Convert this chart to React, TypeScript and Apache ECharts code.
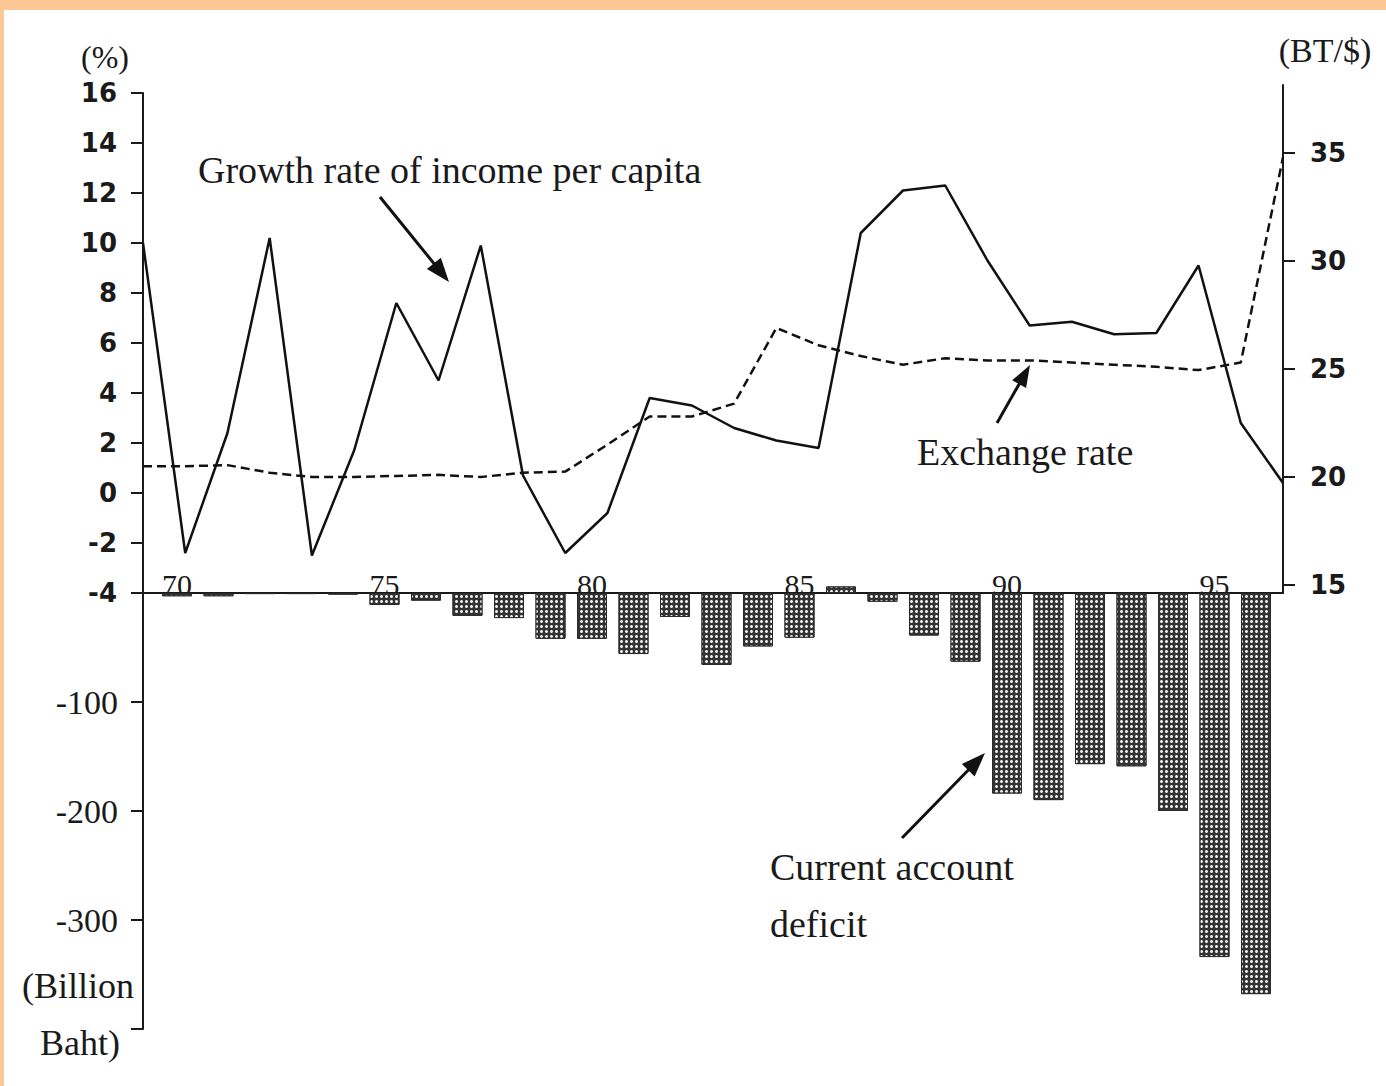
import React, { useEffect, useRef } from 'react';
import * as echarts from 'echarts';

// ---- Data ----
const years = [
  '1970', '1971', '1972', '1973', '1974', '1975', '1976', '1977', '1978', '1979',
  '1980', '1981', '1982', '1983', '1984', '1985', '1986', '1987', '1988', '1989',
  '1990', '1991', '1992', '1993', '1994', '1995', '1996', '1997',
];
const barYears = [
  '1970', '1971', '1972', '1973', '1974', '1975', '1976', '1977', '1978', '1979',
  '1980', '1981', '1982', '1983', '1984', '1985', '1986', '1987', '1988', '1989',
  '1990', '1991', '1992', '1993', '1994', '1995', '1996',
];
// Growth rate of income per capita (%)
const growthRate = [
  10.0, -2.4, 2.4, 10.2, -2.5, 1.7, 7.6, 4.5, 9.9, 0.7,
  -2.4, -0.8, 3.8, 3.5, 2.6, 2.1, 1.8, 10.4, 12.1, 12.3,
  9.3, 6.7, 6.85, 6.35, 6.4, 9.1, 2.8, 0.4,
];
// Exchange rate (BT/$)
const exchangeRate = [
  20.5, 20.5, 20.55, 20.2, 20.0, 20.0, 20.05, 20.1, 20.0, 20.2,
  20.25, 21.5, 22.8, 22.8, 23.4, 26.9, 26.1, 25.6, 25.2, 25.5,
  25.4, 25.4, 25.3, 25.2, 25.1, 24.95, 25.3, 34.8,
];
// Current account (Billion Baht)
const currentAccount = [
  -3, -3, -1, -1, -1.5, -11, -7, -21, -23, -42,
  -42, -56, -22, -66, -49, -41, 6, -8, -39, -63,
  -184, -190, -157, -159, -200, -334, -368,
];
const exchangeTicks = [15, 20, 25, 30, 35];
const deficitLabels = [-100, -200, -300];
const yearLabelEvery = 5;

const INK = '#1a1a1a';
const SERIF = '"Liberation Serif", "Times New Roman", serif';
const SANS = '"DejaVu Sans", sans-serif';

function arrow(x1: number, y1: number, x2: number, y2: number, headLen = 24, headW = 9) {
  const dx = x2 - x1;
  const dy = y2 - y1;
  const len = Math.hypot(dx, dy);
  const ux = dx / len;
  const uy = dy / len;
  const bx = x2 - ux * headLen;
  const by = y2 - uy * headLen;
  const px = -uy * headW;
  const py = ux * headW;
  return [
    { type: 'line', shape: { x1, y1, x2: bx + ux * 4, y2: by + uy * 4 }, style: { stroke: '#111', lineWidth: 3 } },
    {
      type: 'polygon',
      shape: { points: [[x2, y2], [bx + px, by + py], [bx - px, by - py]] },
      style: { fill: '#111' },
    },
  ];
}

function label(text: string, x: number, y: number, size: number, align = 'left') {
  return {
    type: 'text',
    x,
    y,
    style: {
      text,
      fontFamily: SERIF,
      fontSize: size,
      fill: INK,
      align,
      verticalAlign: 'middle',
    },
  };
}

export default function App() {
  const ref = useRef<HTMLDivElement>(null);

  useEffect(() => {
    if (!ref.current) return;
    const chart = echarts.init(ref.current, undefined, { renderer: 'svg' });
    const axisLine = { show: true, onZero: false, lineStyle: { color: INK, width: 2 } };
    const axisTick = { show: true, length: 12, lineStyle: { color: INK, width: 2 } };

    const option: any = {
      animation: false,
      backgroundColor: '#ffffff',
      grid: [
        { left: 143, right: 103, top: 93, height: 500 },
        { left: 143, right: 103, top: 85, height: 508 },
        { left: 156.25, right: 109.25, top: 593, height: 436 },
      ],
      xAxis: [
        {
          gridIndex: 0,
          type: 'category',
          data: years,
          boundaryGap: false,
          axisLine,
          axisTick: { show: false },
          axisLabel: { show: false },
          splitLine: { show: false },
        },
        {
          gridIndex: 1,
          type: 'category',
          data: years,
          boundaryGap: false,
          show: false,
        },
        {
          gridIndex: 2,
          type: 'category',
          data: barYears,
          position: 'top',
          axisLine: { show: false },
          axisTick: { show: false },
          splitLine: { show: false },
          axisLabel: {
            interval: yearLabelEvery - 1,
            formatter: (v: string) => v.slice(2),
            fontFamily: SERIF,
            fontSize: 30,
            color: INK,
            margin: -6,
          },
        },
      ],
      yAxis: [
        {
          gridIndex: 0,
          type: 'value',
          min: -4,
          max: 16,
          interval: 2,
          axisLine,
          axisTick,
          splitLine: { show: false },
          axisLabel: {
            fontFamily: SANS,
            fontWeight: 'bold',
            fontSize: 26,
            color: INK,
            margin: 26,
          },
        },
        {
          gridIndex: 1,
          type: 'value',
          position: 'right',
          min: 14.63,
          max: 38.15,
          axisLine,
          axisTick: { ...axisTick, customValues: exchangeTicks },
          splitLine: { show: false },
          axisLabel: {
            customValues: exchangeTicks,
            fontFamily: SANS,
            fontWeight: 'bold',
            fontSize: 26,
            color: INK,
            margin: 27,
          },
        },
        {
          gridIndex: 2,
          type: 'value',
          min: -400,
          max: 0,
          interval: 100,
          offset: 13.25,
          axisLine,
          axisTick,
          splitLine: { show: false },
          axisLabel: {
            formatter: (v: number) => (deficitLabels.includes(v) ? String(v) : ''),
            fontFamily: SERIF,
            fontSize: 34,
            color: INK,
            margin: 25,
          },
        },
      ],
      series: [
        {
          name: 'Current account deficit',
          type: 'bar',
          xAxisIndex: 2,
          yAxisIndex: 2,
          data: currentAccount,
          barWidth: 30,
          clip: false,
          itemStyle: {
            color: '#333333',
            borderColor: '#2a2a2a',
            borderWidth: 1,
            decal: {
              symbol: 'circle',
              symbolSize: 1,
              color: '#f2f2f2',
              dashArrayX: [3, 1.6],
              dashArrayY: [3, 1.6],
            },
          },
          z: 2,
        },
        {
          name: 'Growth rate of income per capita',
          type: 'line',
          xAxisIndex: 0,
          yAxisIndex: 0,
          data: growthRate,
          symbol: 'none',
          lineStyle: { color: '#111', width: 2.5 },
          z: 4,
        },
        {
          name: 'Exchange rate',
          type: 'line',
          xAxisIndex: 1,
          yAxisIndex: 1,
          data: exchangeRate,
          symbol: 'none',
          lineStyle: { color: '#111', width: 2.5, type: [9, 5] },
          z: 3,
        },
      ],
      graphic: [
        { type: 'rect', shape: { x: 0, y: 0, width: 1386, height: 10 }, style: { fill: '#fdc896' } },
        { type: 'rect', shape: { x: 0, y: 0, width: 4, height: 1086 }, style: { fill: '#fdc896' } },
        label('(%)', 105, 57, 32, 'center'),
        label('(BT/$)', 1325, 50, 34, 'center'),
        label('(Billion', 22, 986, 36),
        label('Baht)', 40, 1043, 36),
        label('Growth rate of income per capita', 198, 170, 38),
        label('Exchange rate', 917, 452, 38),
        label('Current account', 770, 867, 38),
        label('deficit', 770, 924, 38),
        ...arrow(380, 197, 449, 282),
        ...arrow(997, 423, 1030, 365, 22, 8),
        ...arrow(902, 838, 985, 753),
      ],
    };

    chart.setOption(option);
    return () => chart.dispose();
  }, []);

  return (
    <div
      ref={ref}
      style={{ position: 'absolute', left: 0, top: 0, width: 1386, height: 1086 }}
    />
  );
}
